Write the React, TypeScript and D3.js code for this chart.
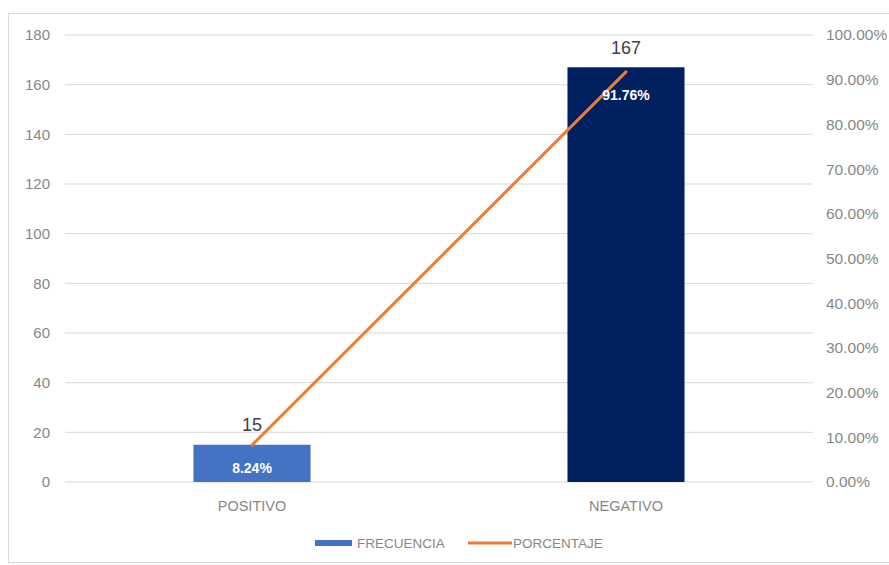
import React from "react";
import * as d3 from "d3";

// Categories and series
const categories = ["POSITIVO", "NEGATIVO"];
const frecuencia = [15, 167];
const porcentaje = [0.0824, 0.9176];
const barColors = ["#4472C4", "#002060"];
const leftTicks = [0, 20, 40, 60, 80, 100, 120, 140, 160, 180];
const rightTicks = [0, 0.1, 0.2, 0.3, 0.4, 0.5, 0.6, 0.7, 0.8, 0.9, 1.0];
const legendLabels = ["FRECUENCIA", "PORCENTAJE"];

const W = 889;
const H = 565;
const FONT = "'Liberation Sans', Arial, sans-serif";

export default function App() {
  const plotLeft = 65;
  const plotRight = 813;
  const plotTop = 35;
  const plotBottom = 482;

  const x = d3.scaleBand<string>().domain(categories).range([plotLeft, plotRight]).paddingInner(0.687).paddingOuter(0.3435);
  const yL = d3.scaleLinear().domain([0, 180]).range([plotBottom, plotTop]);
  const yR = d3.scaleLinear().domain([0, 1]).range([plotBottom, plotTop]);
  const center = (c: string) => (x(c) as number) + x.bandwidth() / 2;
  const pctFmt = (v: number) => d3.format(".2%")(v);

  const line = d3
    .line<number>()
    .x((_, i) => center(categories[i]))
    .y((d) => yR(d));

  return (
    <svg
      width={W}
      height={H}
      style={{ position: "absolute", left: 0, top: 0, background: "#fff" }}
      fontFamily={FONT}
    >
      <rect x={8.5} y={13.5} width={W} height={549} fill="#fff" stroke="#d9d9d9" strokeWidth={1} />

      {/* gridlines */}
      {leftTicks.map((t) => (
        <line key={"g" + t} x1={plotLeft} x2={plotRight} y1={yL(t)} y2={yL(t)} stroke="#d9d9d9" strokeWidth={1} />
      ))}

      {/* left axis labels */}
      {leftTicks.map((t) => (
        <text key={"l" + t} x={50} y={yL(t)} dy="0.35em" textAnchor="end" fontSize={15} fill="#878787">
          {t}
        </text>
      ))}

      {/* right axis labels */}
      {rightTicks.map((t) => (
        <text key={"r" + t} x={826} y={yR(t)} dy="0.35em" textAnchor="start" fontSize={15.5} fill="#878787">
          {pctFmt(t)}
        </text>
      ))}

      {/* bars */}
      {categories.map((c, i) => (
        <rect
          key={"b" + c}
          x={x(c)}
          y={yL(frecuencia[i])}
          width={x.bandwidth()}
          height={plotBottom - yL(frecuencia[i])}
          fill={barColors[i]}
        />
      ))}

      {/* bar value labels */}
      {categories.map((c, i) => (
        <text
          key={"bv" + c}
          x={center(c)}
          y={yL(frecuencia[i]) - 20}
          dy="0.35em"
          textAnchor="middle"
          fontSize={18}
          fill="#404040"
        >
          {frecuencia[i]}
        </text>
      ))}

      {/* percentage line */}
      <path d={line(porcentaje) || ""} fill="none" stroke="#ED7D31" strokeWidth={3} strokeLinecap="round" />

      {/* percentage labels */}
      {categories.map((c, i) => (
        <text
          key={"pv" + c}
          x={center(c)}
          y={yR(porcentaje[i]) + 23}
          dy="0.35em"
          textAnchor="middle"
          fontSize={14}
          fontWeight="bold"
          fill="#ffffff"
        >
          {pctFmt(porcentaje[i])}
        </text>
      ))}

      {/* category labels */}
      {categories.map((c) => (
        <text key={"c" + c} x={center(c)} y={506} dy="0.35em" textAnchor="middle" fontSize={14.5} fill="#878787">
          {c}
        </text>
      ))}

      {/* legend */}
      <rect x={315} y={540} width={37} height={6} fill={barColors[0]} />
      <text x={357} y={543} dy="0.35em" fontSize={13.5} fill="#878787">
        {legendLabels[0]}
      </text>
      <line x1={468} x2={512} y1={543} y2={543} stroke="#ED7D31" strokeWidth={3} />
      <text x={513} y={543} dy="0.35em" fontSize={13.5} fill="#878787">
        {legendLabels[1]}
      </text>
    </svg>
  );
}
